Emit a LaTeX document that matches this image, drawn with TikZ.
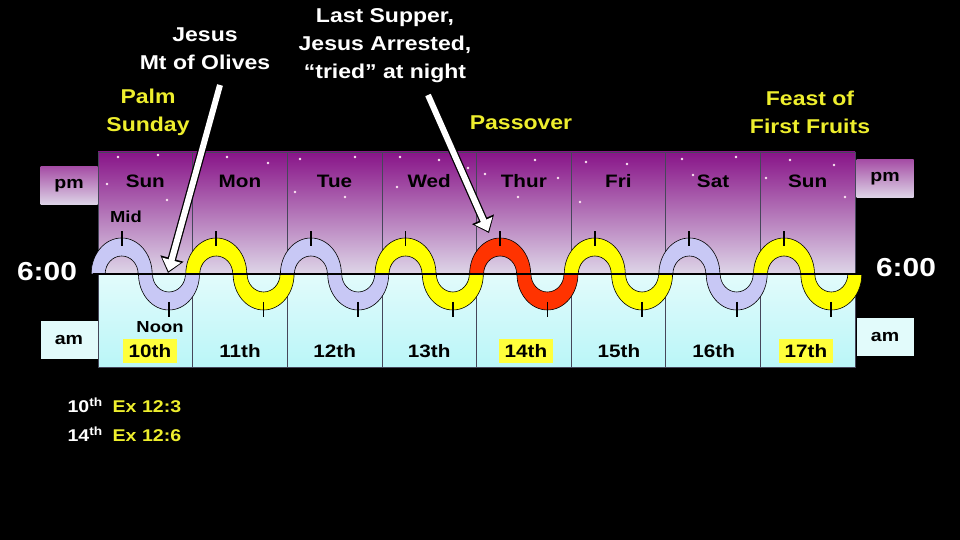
\documentclass[tikz,border=0pt]{standalone}
\usepackage{fontspec}
\setmainfont{Liberation Sans}[FakeStretch=1.15]
\usetikzlibrary{arrows.meta}

\definecolor{lavwave}{RGB}{200,200,245}
\definecolor{yelwave}{RGB}{255,255,0}
\definecolor{redwave}{RGB}{255,51,0}
\definecolor{nighttop}{RGB}{136,20,136}
\definecolor{nightlow}{RGB}{222,214,232}
\definecolor{daytop}{RGB}{226,251,251}
\definecolor{daylow}{RGB}{186,246,248}
\definecolor{labyel}{RGB}{238,238,45}
\definecolor{hilite}{RGB}{255,255,60}

\begin{document}
\begin{tikzpicture}[x=1pt,y=1pt,
  dayname/.style={font=\fontsize{18}{20}\selectfont\bfseries, text=black},
  datelab/.style={font=\fontsize{18}{20}\selectfont\bfseries, text=black},
  hidate/.style={datelab, fill=hilite, inner xsep=6pt, inner ysep=5pt},
  whitelab/.style={font=\fontsize{20}{28}\selectfont\bfseries, text=white, align=center},
  yellab/.style={font=\fontsize{20}{28}\selectfont\bfseries, text=labyel, align=center},
  smalllab/.style={font=\fontsize{16}{18}\selectfont\bfseries, text=black},
  clock/.style={font=\fontsize{26}{28}\selectfont\bfseries, text=white},
  note/.style={font=\fontsize{17}{19}\selectfont\bfseries, text=white, anchor=base west},
  pmbox/.style={top color=nighttop!75, bottom color=nightlow, minimum width=57, minimum height=38,
    font=\fontsize{17}{18}\selectfont\bfseries},
  ambox/.style={fill=daytop, minimum width=57, minimum height=38,
    font=\fontsize{17}{18}\selectfont\bfseries},
  wave/.style={draw=black, line width=0.6pt},
  tick/.style={line width=1.8pt, black},
  colsep/.style={line width=0.6pt, draw={rgb,255:red,70;green,70;blue,90}},
  calloutedge/.style={line width=8.5pt, black, -{Triangle[length=15pt,width=23pt]}},
  calloutfill/.style={line width=6pt, white, shorten >=1.8pt, -{Triangle[length=11.5pt,width=18.5pt]}}]

  \useasboundingbox (0,0) rectangle (960,540);
  \fill[black] (0,0) rectangle (960,540);

  % night and day halves of the week
  \shade[top color=nighttop, bottom color=nightlow] (98,266) rectangle (855,388);
  \shade[top color=daytop, bottom color=daylow] (98,173) rectangle (855,266);
  \foreach \sx/\sy in {118/383,158/385,107/356,167/340,268/377,227/383,300/381,295/348,
      355/383,345/343,400/383,439/380,468/372,397/353,485/366,535/380,558/362,518/343,
      586/378,580/338,627/376,682/381,736/383,693/365,790/380,834/375,766/362,845/343}
    \fill[white!90!magenta] (\sx,\sy) circle (1.3);
  \foreach \i in {1,...,7}
    \draw[colsep] (98+94.625*\i,173) -- ++(0,215);
  \draw[colsep] (98,173) rectangle (855,388);

  % the wave, two halves per day
  \foreach \k in {0,...,15}{
    \pgfmathsetmacro{\cx}{121.66+47.31*\k}
    \pgfmathtruncatemacro{\dd}{\k/2}
    \pgfmathtruncatemacro{\ee}{360*mod(\k,2)}
    \pgfmathtruncatemacro{\sg}{1-2*mod(\k,2)}
    \pgfmathsetmacro{\wc}{{"lavwave","yelwave","lavwave","yelwave","redwave","yelwave","lavwave","yelwave"}[\dd]}
    \filldraw[wave, fill=\wc] (\cx-30.5,266)
      arc[start angle=180, end angle=\ee, x radius=30.5, y radius=36]
      -- (\cx+16.5,266)
      arc[start angle=\ee, end angle=180, x radius=16.5, y radius=18] -- cycle;
    \draw[tick] (\cx,266+\sg*28) -- (\cx,266+\sg*43);
  }
  \draw[line width=2.5pt] (93,266) -- (863,266);

  \foreach \d [count=\i from 0] in {Sun,Mon,Tue,Wed,Thur,Fri,Sat,Sun}
    \node[dayname] (day\i) at (145.3+94.625*\i,359) {\d};
  \foreach \t [count=\i from 0] in {11th,12th,13th}
    \node[datelab] (date\i) at (240+94.625*\i,189) {\t};
  \foreach \t [count=\i from 0] in {15th,16th}
    \node[datelab] (datel\i) at (619+94.625*\i,189) {\t};
  \node[hidate] (tenth) at (150,189) {10th};
  \node[hidate] (fourteenth) at (526,189) {14th};
  \node[hidate] (seventeenth) at (806,189) {17th};

  \node[smalllab] (mid) at (126,323) {Mid};
  \node[smalllab] (noon) at (160,213) {Noon};

  \node[pmbox] (pmleft) at (69,354) {pm};
  \node[pmbox] (pmright) at (885,361) {pm};
  \node[ambox] (amleft) at (69,200) {am};
  \node[ambox] (amright) at (885,203) {am};
  \node[clock] (sixleft) at (47,268) {6:00};
  \node[clock] (sixright) at (906,272) {6:00};

  % captions above
  \node[whitelab] (olives) at (205,491) {Jesus\\Mt of Olives};
  \node[yellab] (palm) at (148,428) {Palm\\Sunday};
  \node[whitelab] (supper) at (385,494) {Last Supper,\\Jesus Arrested,\\“tried” at night};
  \node[yellab] (passover) at (521,417) {Passover};
  \node[yellab] (firstfruits) at (810,428) {Feast of\\First Fruits};

  \coordinate (olivestail) at (220,455);
  \coordinate (olivestip) at (168,267);
  \coordinate (suppertail) at (428,445);
  \coordinate (suppertip) at (489,307);
  \draw[calloutedge] (olivestail) -- (olivestip);
  \draw[calloutfill] (olivestail) -- (olivestip);
  \draw[calloutedge] (suppertail) -- (suppertip);
  \draw[calloutfill] (suppertail) -- (suppertip);

  \node[note] (ref10) at (64,127) {10\textsuperscript{th}\hspace{10pt}\textcolor{labyel}{Ex 12:3}};
  \node[note] (ref14) at (64,98) {14\textsuperscript{th}\hspace{10pt}\textcolor{labyel}{Ex 12:6}};
\end{tikzpicture}
\end{document}
